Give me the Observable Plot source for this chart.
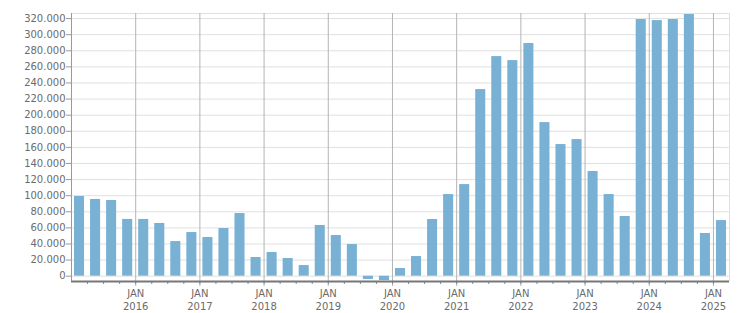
<!DOCTYPE html>
<html><head><meta charset="utf-8">
<script src="https://cdn.jsdelivr.net/npm/d3@7"></script>
<script src="https://cdn.jsdelivr.net/npm/@observablehq/plot@0.6"></script>
<style>html,body{margin:0;padding:0;background:#fff} svg{display:block}</style>
</head><body><div id="chart"></div>
<script>
const periods = [
  "2015 Q1","2015 Q2","2015 Q3","2015 Q4",
  "2016 Q1","2016 Q2","2016 Q3","2016 Q4",
  "2017 Q1","2017 Q2","2017 Q3","2017 Q4",
  "2018 Q1","2018 Q2","2018 Q3","2018 Q4",
  "2019 Q1","2019 Q2","2019 Q3","2019 Q4",
  "2020 Q1","2020 Q2","2020 Q3","2020 Q4",
  "2021 Q1","2021 Q2","2021 Q3","2021 Q4",
  "2022 Q1","2022 Q2","2022 Q3","2022 Q4",
  "2023 Q1","2023 Q2","2023 Q3","2023 Q4",
  "2024 Q1","2024 Q2","2024 Q3","2024 Q4",
  "2025 Q1"
];
const values = [
  99000, 95300, 94000, 70500,
  70500, 65500, 43000, 54200,
  48000, 59200, 77800, 23200,
  29400, 22000, 13200, 63000,
  50500, 39300, -4100, -5400,
  9500, 24400, 70400, 101400,
  113800, 231800, 272800, 267800,
  289000, 190800, 163500, 169700,
  130000, 101400, 74100, 318800,
  317500, 318800, 325000, 53000,
  69100
];
const yTicks = [0,20000,40000,60000,80000,100000,120000,140000,160000,180000,200000,220000,240000,260000,280000,300000,320000];
const yearTicks = [2016,2017,2018,2019,2020,2021,2022,2023,2024,2025];
const monthLabel = "JAN";

const data = periods.map((p, i) => {
  const [yr, q] = p.split(" Q");
  const t = +yr + (+q - 1) / 4;
  return {period: p, t0: t, t1: t + 0.25, v: values[i]};
});
const xMin = 2015, xMax = 2025.25;
const yMin = -6600, yMax = 326300;
const quarterBounds = data.map(d => d.t1).filter(t => t < xMax);
const fmt = d => d3.format(",")(d).replace(/,/g, ".");

const chart = Plot.plot({
  width: 751, height: 313,
  marginLeft: 71, marginRight: 22, marginTop: 13, marginBottom: 32,
  style: {fontFamily: "'DejaVu Sans', sans-serif", fontSize: "10px", color: "#6b6b6b", background: "#fff"},
  x: {type: "linear", domain: [xMin, xMax], label: null},
  y: {domain: [yMin, yMax], label: null},
  marks: [
    Plot.gridY(yTicks, {stroke: "#e0e0e0", strokeOpacity: 1}),
    Plot.ruleY([yMax], {stroke: "#e0e0e0"}),
    Plot.ruleX([xMax], {stroke: "#e0e0e0"}),
    Plot.ruleX(yearTicks, {stroke: "#b4b4b4", insetBottom: -5}),
    Plot.rectY(data, {x1: "t0", x2: "t1", y: "v", insetLeft: 3, insetRight: 3, fill: "#78b1d4"}),
    Plot.axisX(quarterBounds, {tickSize: 3, tickFormat: () => "", stroke: "#888"}),
    Plot.ruleY([yMin], {stroke: "#777", strokeWidth: 2}),
    Plot.ruleX([xMin], {stroke: "#999"}),
    Plot.axisY(yTicks, {tickSize: 5, tickPadding: 1, tickFormat: fmt, stroke: "#999"}),
    Plot.axisX(yearTicks, {tickSize: 0, tickPadding: 8, tickFormat: () => monthLabel}),
    Plot.axisX(yearTicks, {tickSize: 0, tickPadding: 21, tickFormat: d => String(d)})
  ]
});
document.getElementById("chart").appendChild(chart);
</script>
</body></html>
